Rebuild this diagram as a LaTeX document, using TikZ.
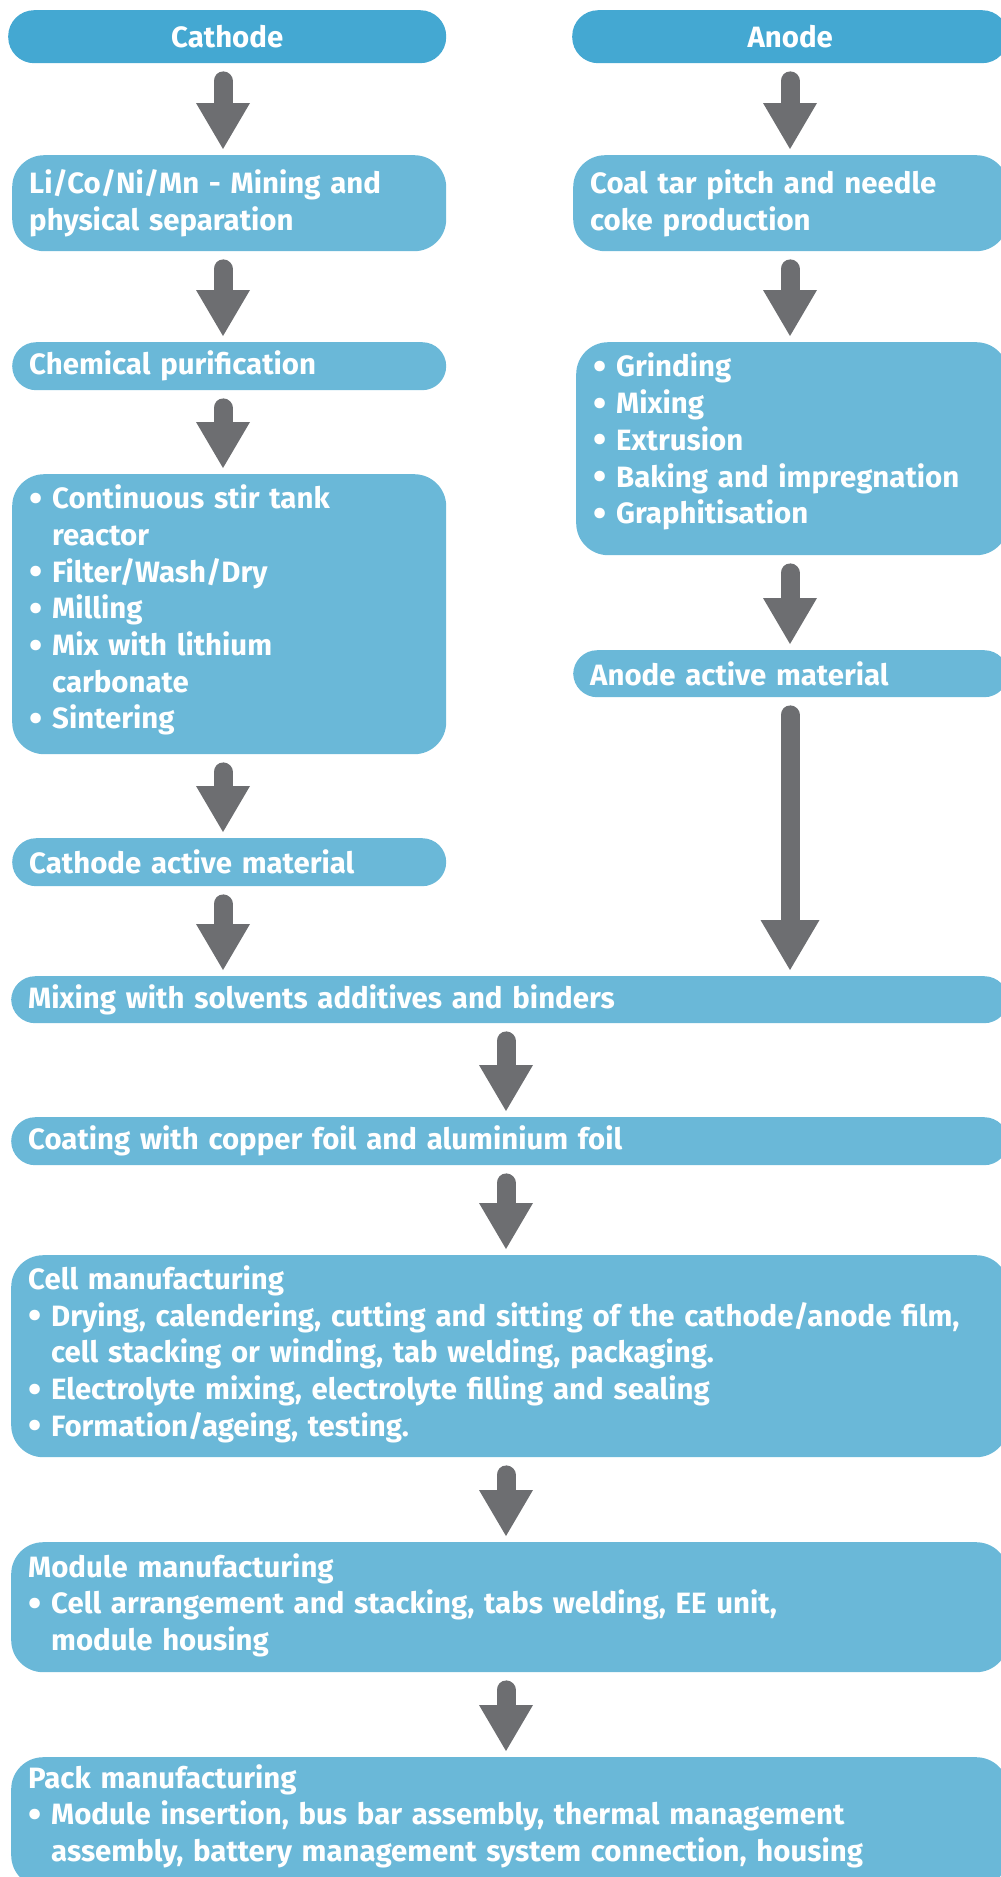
\documentclass[tikz,border=0pt]{standalone}
\usepackage{fontspec}
\setmainfont{Fira Sans}
\usetikzlibrary{arrows.meta}
\definecolor{headblue}{HTML}{44A8D2}
\definecolor{boxblue}{HTML}{6AB8D8}
\definecolor{arrowgray}{HTML}{6D6E71}
\newcommand{\bul}{\makebox[23pt][l]{\raisebox{-2.5pt}{\fontsize{38}{0}\selectfont\textbullet}}}
\newcommand{\ind}{\hspace*{23pt}}
\newcommand{\lift}[1]{\par\vspace*{#1}}
\tikzset{
  box/.style={fill=boxblue, text=white, rounded corners=24pt, anchor=north west, align=left,
    inner xsep=17pt, inner ysep=0pt, font=\fontsize{29.4}{36.7}\selectfont\bfseries},
  tall/.style={rounded corners=32pt},
  head/.style={box, fill=headblue, rounded corners=26pt, align=center},
  flow/.style={draw=arrowgray, line width=19pt, line cap=round, shorten <=17.5pt, shorten >=6pt,
    -{Triangle[width=54pt,length=46pt,line width=0pt]}}
}
\begin{document}
\begin{tikzpicture}[x=1pt,y=-1pt]
  \useasboundingbox (0,0) rectangle (1001,1877);
  \clip (0,0) rectangle (1001,1877);
  \coordinate (lx) at (223,0);
  \coordinate (rx) at (790,0);
  \coordinate (mx) at (506,0);
  \node[head, text width=404pt, minimum height=53pt] (cat) at (8,10) {Cathode};
  \node[head, text width=402pt, minimum height=53pt] (ano) at (572,10) {Anode};
  \node[box, tall, text width=400pt, minimum height=96pt] (mine) at (12,155) {Li/Co/Ni/Mn - Mining and\\physical separation};
  \node[box, text width=400pt, minimum height=48pt] (puri) at (12,342) {Chemical purification};
  \node[box, tall, text width=400pt, minimum height=280pt] (csteps) at (12,474) {\bul Continuous stir tank\\\ind reactor\\\bul Filter/Wash/Dry\\\bul Milling\\\bul Mix with lithium\\\ind carbonate\\\bul Sintering\lift{8pt}};
  \node[box, text width=400pt, minimum height=48pt] (cam) at (12,838) {Cathode active material};
  \node[box, tall, text width=401pt, minimum height=96pt] (coke) at (573,155) {Coal tar pitch and needle\\coke production};
  \node[box, tall, text width=398pt, minimum height=213pt] (asteps) at (576,342) {\bul Grinding\\\bul Mixing\\\bul Extrusion\\\bul Baking and impregnation\\\bul Graphitisation\lift{14pt}};
  \node[box, text width=401pt, minimum height=47pt] (aam) at (573,650) {Anode active material};
  \node[box, text width=963pt, minimum height=47pt] (mix) at (11,976) {Mixing with solvents additives and binders};
  \node[box, text width=963pt, minimum height=48pt] (coat) at (11,1117) {Coating with copper foil and aluminium foil};
  \node[box, tall, text width=963pt, minimum height=202pt] (cell) at (11,1255) {Cell manufacturing\\\bul Drying, calendering, cutting and sitting of the cathode/anode film,\\\ind cell stacking or winding, tab welding, packaging.\\\bul Electrolyte mixing, electrolyte filling and sealing\\\bul Formation/ageing, testing.\lift{4pt}};
  \node[box, tall, text width=963pt, minimum height=130pt] (modu) at (11,1542) {Module manufacturing\\\bul Cell arrangement and stacking, tabs welding, EE unit,\\\ind module housing\lift{4pt}};
  \node[box, tall, text width=963pt, minimum height=130pt] (pack) at (11,1757) {Pack manufacturing\\\bul Module insertion, bus bar assembly, thermal management\\\ind assembly, battery management system connection, housing\lift{12pt}};
  \foreach \a/\b in {cat/mine, mine/puri, puri/csteps, csteps/cam, cam/mix} {\draw[flow] (\a.south -| lx) -- (\b.north -| lx);}
  \foreach \a/\b in {ano/coke, coke/asteps, asteps/aam} {\draw[flow] (\a.south -| rx) -- (\b.north -| rx);}
  \draw[flow, -{Triangle[width=59pt,length=50pt,line width=0pt]}] (aam.south -| rx) -- (mix.north -| rx);
  \foreach \a/\b in {mix/coat, coat/cell, cell/modu, modu/pack} {\draw[flow] (\a.south -| mx) -- (\b.north -| mx);}
\end{tikzpicture}
\end{document}
